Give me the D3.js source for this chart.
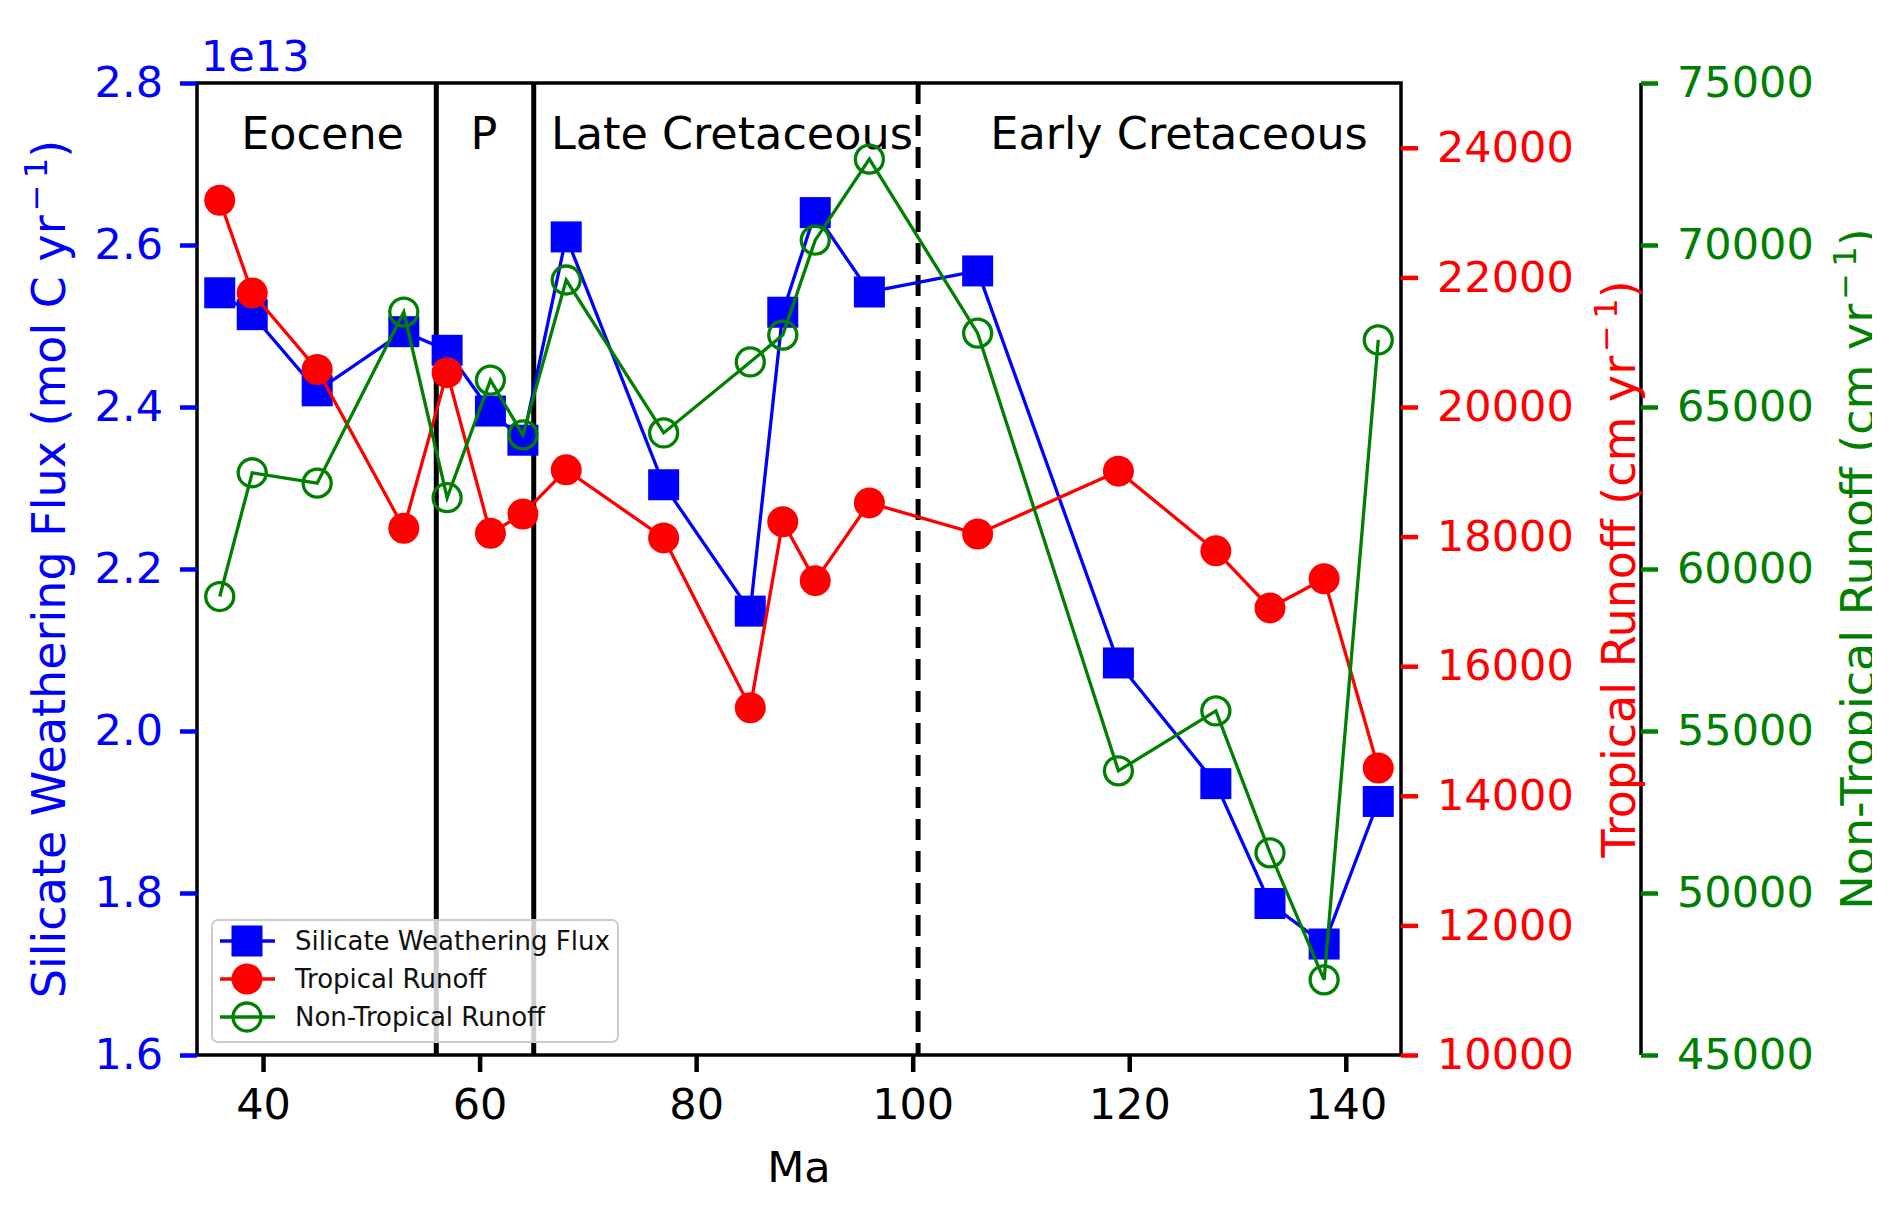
<!DOCTYPE html>
<html>
<head>
<meta charset="utf-8">
<script src="https://cdnjs.cloudflare.com/ajax/libs/d3/7.8.5/d3.min.js"></script>
<style>
  body { margin: 0; background: #fff; }
  svg { display: block; font-family: "DejaVu Sans", sans-serif; }
</style>
</head>
<body>
<svg id="chart" width="1892" height="1215"></svg>
<script>
// ages in Ma
var ages = [36, 39, 45, 53, 57, 61, 64, 68, 77, 85, 88, 91, 96, 106, 119, 128, 133, 138, 143];
// silicate weathering flux, units of 1e13 mol C / yr
var silicateFlux = [2.541, 2.514, 2.42, 2.493, 2.47, 2.395, 2.359, 2.61, 2.304, 2.148, 2.517, 2.64, 2.542, 2.568, 2.084, 1.935, 1.787, 1.737, 1.913];
var tropicalRunoff = [23190, 21760, 20580, 18130, 20530, 18050, 18350, 19030, 17980, 15360, 18230, 17320, 18520, 18040, 19010, 17780, 16900, 17350, 14430];
var nonTropicalRunoff = [59150, 62970, 62650, 67930, 62200, 65830, 64140, 68920, 64200, 66390, 67220, 70150, 72650, 67280, 53770, 55620, 51240, 47320, 67070];

var xTicks = [40, 60, 80, 100, 120, 140];
var fluxTicks = [1.6, 1.8, 2.0, 2.2, 2.4, 2.6, 2.8];
var tropicalTicks = [10000, 12000, 14000, 16000, 18000, 20000, 22000, 24000];
var nonTropicalTicks = [45000, 50000, 55000, 60000, 65000, 70000, 75000];

var solidBoundaries = [56, 65];
var dashedBoundaries = [100.5];
var eraNames = ["Eocene", "P", "Late Cretaceous", "Early Cretaceous"];
var eraCenters = [45.5, 60.4, 83.3, 124.6];

var plotLeft = 197, plotRight = 1401, plotTop = 83, plotBottom = 1055;
var blue = "#0000ff", red = "#ff0000", green = "#008000";
var fontSize = 43;
var labelSize = 46;

var svg = d3.select("#chart");

var x = d3.scaleLinear().domain([33.9, 145.1]).range([plotLeft, plotRight]);
var yFlux = d3.scaleLinear().domain([1.6, 2.8]).range([plotBottom, plotTop]);
var yTrop = d3.scaleLinear().domain([10000, 25000]).range([plotBottom, plotTop]);
var yNon = d3.scaleLinear().domain([45000, 75000]).range([plotBottom, plotTop]);

svg.append("defs").append("clipPath").attr("id", "pageClip")
    .append("rect").attr("x", -2000).attr("y", -2000).attr("width", 3872).attr("height", 5000);

function styleAxis(g, color) {
    g.select(".domain").remove();
    g.selectAll(".tick line").attr("stroke", color).attr("stroke-width", 4.5);
    g.selectAll(".tick text").attr("fill", color)
        .attr("font-size", fontSize)
        .attr("font-family", "DejaVu Sans");
}

// era boundaries
svg.selectAll("line.era")
    .data(solidBoundaries)
    .enter()
    .append("line")
    .attr("class", "era")
    .attr("x1", function(d) { return x(d); })
    .attr("x2", function(d) { return x(d); })
    .attr("y1", plotTop)
    .attr("y2", plotBottom)
    .attr("stroke", "#000")
    .attr("stroke-width", 5);

svg.selectAll("line.eraDash")
    .data(dashedBoundaries)
    .enter()
    .append("line")
    .attr("class", "eraDash")
    .attr("x1", function(d) { return x(d); })
    .attr("x2", function(d) { return x(d); })
    .attr("y1", plotTop)
    .attr("y2", plotBottom)
    .attr("stroke", "#000")
    .attr("stroke-width", 5)
    .attr("stroke-dasharray", "21,11");

svg.selectAll("text.era")
    .data(eraNames)
    .enter()
    .append("text")
    .attr("class", "era")
    .attr("x", function(d, i) { return x(eraCenters[i]); })
    .attr("y", 149)
    .attr("text-anchor", "middle")
    .attr("font-size", 44.5)
    .attr("fill", "#000")
    .text(function(d) { return d; });

function series(values, yScale) {
    return values.map(function(v, i) { return [x(ages[i]), yScale(v)]; });
}

var line = d3.line();

// silicate flux (blue squares)
var fluxPts = series(silicateFlux, yFlux);
svg.append("path")
    .attr("d", line(fluxPts))
    .attr("fill", "none")
    .attr("stroke", blue)
    .attr("stroke-width", 3.3);
svg.selectAll("rect.flux")
    .data(fluxPts)
    .enter()
    .append("rect")
    .attr("class", "flux")
    .attr("x", function(d) { return d[0] - 15.5; })
    .attr("y", function(d) { return d[1] - 15.5; })
    .attr("width", 31)
    .attr("height", 31)
    .attr("fill", blue);

// legend (sits in the first axes, so runoff series draw over it)
var legendData = [
    {name: "Silicate Weathering Flux", color: blue, marker: "square"},
    {name: "Tropical Runoff", color: red, marker: "dot"},
    {name: "Non-Tropical Runoff", color: green, marker: "ring"}
];
var legend = svg.append("g");
legend.append("rect")
    .attr("x", 212).attr("y", 920)
    .attr("width", 406).attr("height", 122)
    .attr("rx", 6).attr("ry", 6)
    .attr("fill", "#fff").attr("fill-opacity", 0.8)
    .attr("stroke", "#cccccc").attr("stroke-width", 2);
var rows = legend.selectAll("g.row")
    .data(legendData)
    .enter()
    .append("g")
    .attr("class", "row")
    .attr("transform", function(d, i) { return "translate(0," + (941 + i * 38) + ")"; });
rows.append("line")
    .attr("x1", 220).attr("x2", 275)
    .attr("y1", 0).attr("y2", 0)
    .attr("stroke", function(d) { return d.color; })
    .attr("stroke-width", 3.3);
rows.each(function(d) {
    var g = d3.select(this);
    if (d.marker === "square") {
        g.append("rect").attr("x", 247 - 15.5).attr("y", -15.5)
            .attr("width", 31).attr("height", 31).attr("fill", d.color);
    } else if (d.marker === "dot") {
        g.append("circle").attr("cx", 247).attr("cy", 0).attr("r", 15.5).attr("fill", d.color);
    } else {
        g.append("circle").attr("cx", 247).attr("cy", 0).attr("r", 14)
            .attr("fill", "none").attr("stroke", d.color).attr("stroke-width", 3.3);
    }
});
rows.append("text")
    .attr("x", 295)
    .attr("y", 9)
    .attr("font-size", 26)
    .attr("fill", "#111")
    .text(function(d) { return d.name; });

// tropical runoff (red dots)
var tropPts = series(tropicalRunoff, yTrop);
svg.append("path")
    .attr("d", line(tropPts))
    .attr("fill", "none")
    .attr("stroke", red)
    .attr("stroke-width", 3.3);
svg.selectAll("circle.trop")
    .data(tropPts)
    .enter()
    .append("circle")
    .attr("class", "trop")
    .attr("cx", function(d) { return d[0]; })
    .attr("cy", function(d) { return d[1]; })
    .attr("r", 15.5)
    .attr("fill", red);

// non-tropical runoff (green rings)
var nonPts = series(nonTropicalRunoff, yNon);
svg.append("path")
    .attr("d", line(nonPts))
    .attr("fill", "none")
    .attr("stroke", green)
    .attr("stroke-width", 3.3);
svg.selectAll("circle.non")
    .data(nonPts)
    .enter()
    .append("circle")
    .attr("class", "non")
    .attr("cx", function(d) { return d[0]; })
    .attr("cy", function(d) { return d[1]; })
    .attr("r", 14)
    .attr("fill", "none")
    .attr("stroke", green)
    .attr("stroke-width", 3.3);

// frame
svg.append("rect")
    .attr("x", plotLeft).attr("y", plotTop)
    .attr("width", plotRight - plotLeft).attr("height", plotBottom - plotTop)
    .attr("fill", "none")
    .attr("stroke", "#000")
    .attr("stroke-width", 3.5);

// axes
var xAxis = svg.append("g")
    .attr("transform", "translate(0," + plotBottom + ")")
    .call(d3.axisBottom(x).tickValues(xTicks).tickSize(17).tickPadding(16).tickFormat(d3.format("d")));
styleAxis(xAxis, "#000");

var fluxAxis = svg.append("g")
    .attr("transform", "translate(" + plotLeft + ",0)")
    .call(d3.axisLeft(yFlux).tickValues(fluxTicks).tickSize(17).tickPadding(17).tickFormat(d3.format(".1f")));
styleAxis(fluxAxis, blue);

var tropAxis = svg.append("g")
    .attr("transform", "translate(" + plotRight + ",0)")
    .call(d3.axisRight(yTrop).tickValues(tropicalTicks).tickSize(17).tickPadding(19).tickFormat(d3.format("d")));
styleAxis(tropAxis, red);

var nonX = 1641;
svg.append("line")
    .attr("x1", nonX).attr("x2", nonX)
    .attr("y1", plotTop).attr("y2", plotBottom)
    .attr("stroke", "#000").attr("stroke-width", 3.5);
var nonAxis = svg.append("g")
    .attr("transform", "translate(" + nonX + ",0)")
    .call(d3.axisRight(yNon).tickValues(nonTropicalTicks).tickSize(17).tickPadding(19).tickFormat(d3.format("d")));
styleAxis(nonAxis, green);

// labels
svg.append("text")
    .attr("x", 201).attr("y", 71)
    .attr("font-size", fontSize)
    .attr("fill", blue)
    .text("1e13");

svg.append("text")
    .attr("x", (plotLeft + plotRight) / 2).attr("y", 1182)
    .attr("text-anchor", "middle")
    .attr("font-size", fontSize)
    .attr("fill", "#000")
    .text("Ma");

function axisLabel(text, xPos, color, clipped) {
    var holder = svg.append("g");
    if (clipped) holder.attr("clip-path", "url(#pageClip)");
    var t = holder.append("text")
        .attr("transform", "translate(" + xPos + "," + (plotTop + plotBottom) / 2 + ") rotate(-90)")
        .attr("text-anchor", "middle")
        .attr("font-size", labelSize)
        .attr("fill", color);
    t.append("tspan").text(text + " yr");
    t.append("tspan").attr("font-size", 32).attr("dy", -18).attr("dx", 4).text("\u2212\u20091");
    t.append("tspan").attr("dy", 18).text(")");
    return t;
}
axisLabel("Silicate Weathering Flux (mol C", 65, blue, false);
axisLabel("Tropical Runoff (cm", 1635, red, false);
axisLabel("Non-Tropical Runoff (cm", 1874, green, true);
</script>
</body>
</html>
